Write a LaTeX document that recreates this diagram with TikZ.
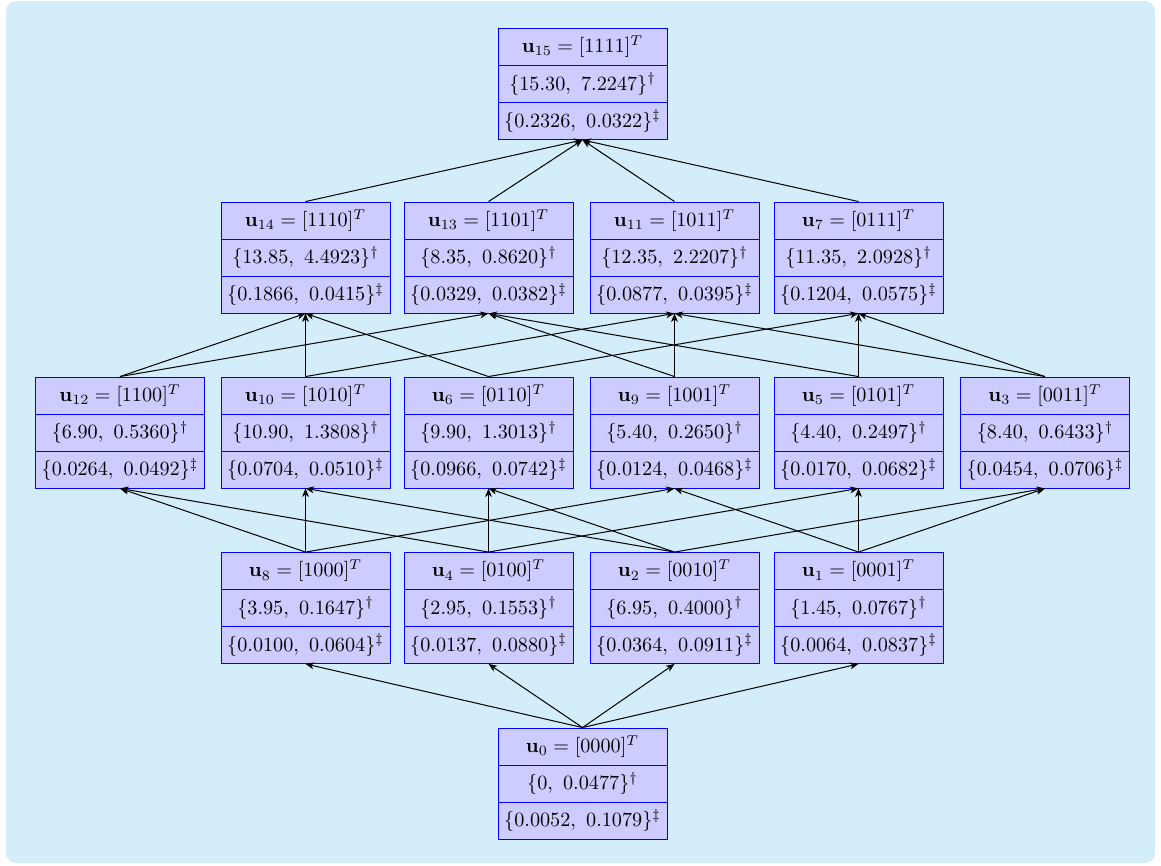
\documentclass[tikz,border=0pt]{standalone}
\usepackage{amsmath}
\usetikzlibrary{arrows.meta}
\definecolor{bgc}{RGB}{211,238,250}
\tikzset{
  cell/.style={draw=blue, fill=blue!20, minimum width=83.7pt, minimum height=18.3pt, inner sep=0pt, line width=0.45pt},
  arr/.style={-{Stealth[length=4.2pt,width=3.4pt,inset=1.2pt]}, black, line width=0.5pt}
}
\newcommand{\lbox}[6]{%
  \node[cell] (#1a) at (#2,#3-37) {#4};
  \node[cell] (#1b) at (#2,#3) {#5};
  \node[cell] (#1c) at (#2,#3+37) {#6};
}
\begin{document}
\begin{tikzpicture}[x=0.495pt,y=-0.495pt]
\useasboundingbox (0,0) rectangle (1161,865);
\fill[bgc, rounded corners=5pt] (6,1) rectangle (1155,863);
% row 4
\lbox{u15}{582.5}{84}{$\mathbf{u}_{15}=[1111]^T$}{$\{15.30,\ 7.2247\}^{\dagger}$}{$\{0.2326,\ 0.0322\}^{\ddagger}$}
% row 3
\lbox{u14}{305.5}{257.5}{$\mathbf{u}_{14}=[1110]^T$}{$\{13.85,\ 4.4923\}^{\dagger}$}{$\{0.1866,\ 0.0415\}^{\ddagger}$}
\lbox{u13}{488.5}{257.5}{$\mathbf{u}_{13}=[1101]^T$}{$\{8.35,\ 0.8620\}^{\dagger}$}{$\{0.0329,\ 0.0382\}^{\ddagger}$}
\lbox{u11}{674.5}{257.5}{$\mathbf{u}_{11}=[1011]^T$}{$\{12.35,\ 2.2207\}^{\dagger}$}{$\{0.0877,\ 0.0395\}^{\ddagger}$}
\lbox{u7}{858.5}{257.5}{$\mathbf{u}_{7}=[0111]^T$}{$\{11.35,\ 2.0928\}^{\dagger}$}{$\{0.1204,\ 0.0575\}^{\ddagger}$}
% row 2
\lbox{u12}{120}{432.5}{$\mathbf{u}_{12}=[1100]^T$}{$\{6.90,\ 0.5360\}^{\dagger}$}{$\{0.0264,\ 0.0492\}^{\ddagger}$}
\lbox{u10}{305.5}{432.5}{$\mathbf{u}_{10}=[1010]^T$}{$\{10.90,\ 1.3808\}^{\dagger}$}{$\{0.0704,\ 0.0510\}^{\ddagger}$}
\lbox{u6}{488.5}{432.5}{$\mathbf{u}_{6}=[0110]^T$}{$\{9.90,\ 1.3013\}^{\dagger}$}{$\{0.0966,\ 0.0742\}^{\ddagger}$}
\lbox{u9}{674.5}{432.5}{$\mathbf{u}_{9}=[1001]^T$}{$\{5.40,\ 0.2650\}^{\dagger}$}{$\{0.0124,\ 0.0468\}^{\ddagger}$}
\lbox{u5}{858.5}{432.5}{$\mathbf{u}_{5}=[0101]^T$}{$\{4.40,\ 0.2497\}^{\dagger}$}{$\{0.0170,\ 0.0682\}^{\ddagger}$}
\lbox{u3}{1045}{432.5}{$\mathbf{u}_{3}=[0011]^T$}{$\{8.40,\ 0.6433\}^{\dagger}$}{$\{0.0454,\ 0.0706\}^{\ddagger}$}
% row 1
\lbox{u8}{305.5}{608}{$\mathbf{u}_{8}=[1000]^T$}{$\{3.95,\ 0.1647\}^{\dagger}$}{$\{0.0100,\ 0.0604\}^{\ddagger}$}
\lbox{u4}{488.5}{608}{$\mathbf{u}_{4}=[0100]^T$}{$\{2.95,\ 0.1553\}^{\dagger}$}{$\{0.0137,\ 0.0880\}^{\ddagger}$}
\lbox{u2}{674.5}{608}{$\mathbf{u}_{2}=[0010]^T$}{$\{6.95,\ 0.4000\}^{\dagger}$}{$\{0.0364,\ 0.0911\}^{\ddagger}$}
\lbox{u1}{858.5}{608}{$\mathbf{u}_{1}=[0001]^T$}{$\{1.45,\ 0.0767\}^{\dagger}$}{$\{0.0064,\ 0.0837\}^{\ddagger}$}
% row 0
\lbox{u0}{582.5}{783.5}{$\mathbf{u}_{0}=[0000]^T$}{$\{0,\ 0.0477\}^{\dagger}$}{$\{0.0052,\ 0.1079\}^{\ddagger}$}
% edges
\foreach \s/\t in {u0/u8,u0/u4,u0/u2,u0/u1,
  u8/u12,u8/u10,u8/u9,u4/u12,u4/u6,u4/u5,u2/u10,u2/u6,u2/u3,u1/u9,u1/u5,u1/u3,
  u12/u14,u12/u13,u10/u14,u10/u11,u6/u14,u6/u7,u9/u13,u9/u11,u5/u13,u5/u7,u3/u11,u3/u7,
  u14/u15,u13/u15,u11/u15,u7/u15}
  \draw[arr] (\s a.north) -- (\t c.south);
\end{tikzpicture}
\end{document}
